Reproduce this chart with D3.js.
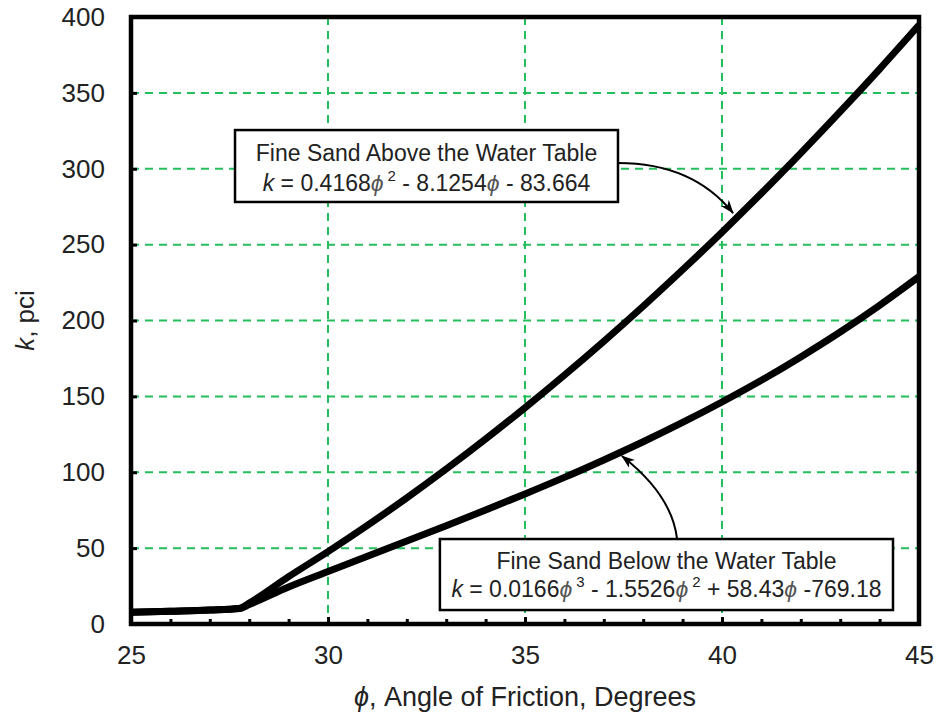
<!DOCTYPE html>
<html><head><meta charset="utf-8">
<script src="https://cdn.jsdelivr.net/npm/d3@7"></script>
<style>
body{margin:0;background:#fff}
svg{display:block}
text{font-family:"Liberation Sans",Arial,Helvetica,sans-serif}
</style>
</head><body>
<svg id="chart" width="938" height="717"></svg>
<script>
// ---------- data ----------
const xTicks = [25, 30, 35, 40, 45];
const xMinorTicks = [26,27,28,29,31,32,33,34,36,37,38,39,41,42,43,44];
const yTicks = [0, 50, 100, 150, 200, 250, 300, 350, 400];
const xGrid = [30, 35, 40];
const yGrid = [50, 100, 150, 200, 250, 300, 350];

const phi    = [25, 26, 27, 27.75, 28, 29, 30, 31, 32, 33, 34, 35, 36, 37, 38, 39, 40, 41, 42, 43, 44, 45];
const kAbove = [7.7, 8.4, 9.2, 10.2, 13.8, 31.2, 47.7, 65.0, 83.1, 102.1, 121.9, 142.5, 164.0, 186.3, 209.4, 233.4, 258.2, 283.8, 310.3, 337.6, 365.7, 394.7];
const kBelow = [7.7, 8.4, 9.2, 10.2, 12.8, 24.4, 34.6, 44.6, 54.7, 64.8, 75.1, 85.7, 96.6, 108.1, 120.1, 132.8, 146.3, 160.6, 176.0, 192.4, 210.0, 228.9];

const note1Lines = ["Fine Sand Above the Water Table"];
const note1Eq = [["k","i"],[" = 0.4168",""],["ϕ","i"],["2","s"],[" - 8.1254",""],["ϕ","i"],[" - 83.664",""]];
const note2Lines = ["Fine Sand Below the Water Table"];
const note2Eq = [["k","i"],[" = 0.0166",""],["ϕ","i"],["3","s"],[" - 1.5526",""],["ϕ","i"],["2","s"],[" + 58.43",""],["ϕ","i"],[" -769.18",""]];

// ---------- layout ----------
const svg = d3.select("#chart");
const L = 131, R = 919, T = 17, B = 624;
const x = d3.scaleLinear().domain([25, 45]).range([L, R]);
const y = d3.scaleLinear().domain([0, 400]).range([B, T]);
const gridColor = "#25be5c";
const fontCol = "#222";

// grid
svg.append("g").selectAll("line").data(yGrid).join("line")
  .attr("x1", L).attr("x2", R).attr("y1", d => y(d)).attr("y2", d => y(d))
  .attr("stroke", gridColor).attr("stroke-width", 2).attr("stroke-dasharray", "8,6");
svg.append("g").selectAll("line").data(xGrid).join("line")
  .attr("y1", T).attr("y2", B).attr("x1", d => x(d)).attr("x2", d => x(d))
  .attr("stroke", gridColor).attr("stroke-width", 2).attr("stroke-dasharray", "8,6");

// curves
const line = d3.line().x(d => x(d[0])).y(d => y(d[1])).curve(d3.curveMonotoneX);
[kAbove, kBelow].forEach(ks => {
  svg.append("path").datum(phi.map((p, i) => [p, ks[i]]))
    .attr("d", line).attr("fill", "none").attr("stroke", "#000")
    .attr("stroke-width", 7).attr("stroke-linejoin", "round").attr("stroke-linecap", "butt");
});

// frame
svg.append("rect").attr("x", L).attr("y", T).attr("width", R - L).attr("height", B - T)
  .attr("fill", "none").attr("stroke", "#000").attr("stroke-width", 4.5);

// axes
const xAxis = svg.append("g").attr("transform", `translate(0,${B})`)
  .call(d3.axisBottom(x).tickValues(xTicks).tickFormat(d3.format("d")).tickSizeInner(-7).tickSizeOuter(0).tickPadding(22));
const xMinor = svg.append("g").attr("transform", `translate(0,${B})`)
  .call(d3.axisBottom(x).tickValues(xMinorTicks).tickFormat("").tickSizeInner(-5).tickSizeOuter(0));
const yAxis = svg.append("g").attr("transform", `translate(${L},0)`)
  .call(d3.axisLeft(y).tickValues(yTicks).tickFormat(d3.format("d")).tickSizeInner(-6).tickSizeOuter(0).tickPadding(26));
[xAxis, xMinor, yAxis].forEach(g => {
  g.select(".domain").remove();
  g.selectAll(".tick line").attr("stroke", "#000").attr("stroke-width", 3);
  g.selectAll(".tick text").attr("font-size", 26).attr("fill", fontCol)
    .attr("font-family", "'Liberation Sans',Arial,sans-serif");
});

// axis titles
const xt = svg.append("text").attr("x", (L + R) / 2).attr("y", 706).attr("text-anchor", "middle")
  .attr("font-size", 27).attr("fill", fontCol);
xt.append("tspan").attr("font-style", "italic").text("ϕ");
xt.append("tspan").text(", Angle of Friction, Degrees");
const yt = svg.append("text").attr("transform", `translate(34,${(T + B) / 2}) rotate(-90)`)
  .attr("text-anchor", "middle").attr("font-size", 26).attr("fill", fontCol);
yt.append("tspan").attr("font-style", "italic").text("k");
yt.append("tspan").text(", pci");

// annotations
const defs = svg.append("defs");
defs.append("marker").attr("id", "arr").attr("viewBox", "0 0 14 10")
  .attr("refX", 13).attr("refY", 5).attr("markerWidth", 14).attr("markerHeight", 10)
  .attr("markerUnits", "userSpaceOnUse").attr("orient", "auto")
  .append("path").attr("d", "M0,0 L14,5 L0,10 L4,5 Z").attr("fill", "#000");

const notes = [
  {lines: note1Lines, eq: note1Eq, box: [27.64, 37.36, 325.5, 278.1], base1: 161, base2: 191,
   from: [37.36, 303.8], ctrl: [39.26, 303.8], to: [40.28, 270.8]},
  {lines: note2Lines, eq: note2Eq, box: [32.84, 44.34, 56.0, 9.2], base1: 569, base2: 597,
   from: [38.86, 56.0], ctrl: [38.73, 85.0], to: [37.46, 110.7]}
];

notes.forEach(n => {
  svg.append("path")
    .attr("d", `M${x(n.from[0])},${y(n.from[1])} Q${x(n.ctrl[0])},${y(n.ctrl[1])} ${x(n.to[0])},${y(n.to[1])}`)
    .attr("fill", "none").attr("stroke", "#000").attr("stroke-width", 2).attr("marker-end", "url(#arr)");
  const x0 = x(n.box[0]), x1 = x(n.box[1]), y0 = y(n.box[2]), y1 = y(n.box[3]);
  svg.append("rect").attr("x", x0).attr("y", y0).attr("width", x1 - x0).attr("height", y1 - y0)
    .attr("fill", "#fff").attr("stroke", "#000").attr("stroke-width", 2.5);
  const cx = (x0 + x1) / 2;
  svg.append("text").attr("x", cx).attr("y", n.base1).attr("text-anchor", "middle")
    .attr("font-size", 23).attr("fill", fontCol).text(n.lines[0]);
  const t = svg.append("text").attr("x", cx).attr("y", n.base2).attr("text-anchor", "middle")
    .attr("font-size", 23).attr("fill", fontCol);
  let raised = false;
  n.eq.forEach(([s, st]) => {
    const sp = t.append("tspan").text(s);
    if (st === "i") { sp.attr("font-style", "italic"); if (s === "ϕ") sp.attr("fill", "#555"); }
    if (st === "s") { sp.attr("font-size", 15).attr("dy", -10).attr("dx", 4); raised = true; }
    else if (raised) { sp.attr("dy", 10); raised = false; }
  });
});
</script>
</body></html>
